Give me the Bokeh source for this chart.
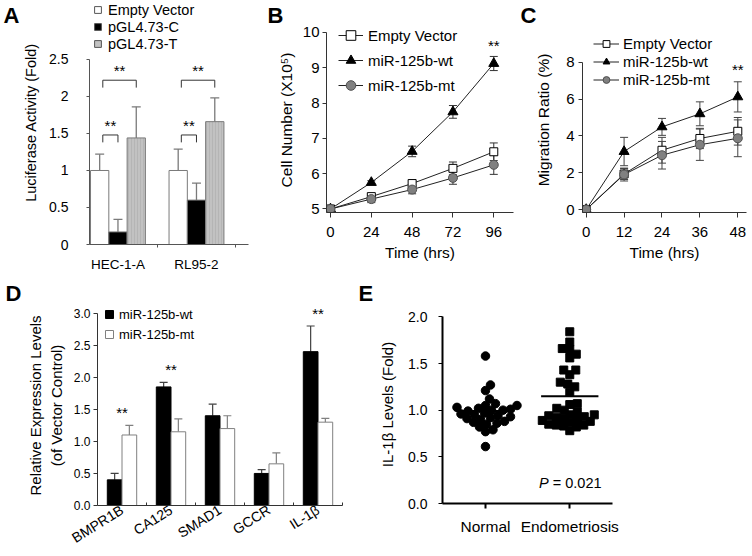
import numpy as np
from bokeh.plotting import figure
from bokeh.layouts import row, column
from bokeh.models import (Range1d, FixedTicker, Whisker, TeeHead, ColumnDataSource,
                          Legend, LegendItem, NumeralTickFormatter, LinearAxis)
from bokeh.embed import file_html
from bokeh.resources import INLINE
from bokeh.core.properties import value

FONT = "Liberation Sans"
NAN = float("nan")

# ---------------- data ----------------
# Panel A
a_categories = ["HEC-1-A", "RL95-2"]
a_series = ["Empty Vector", "pGL4.73-C", "pGL4.73-T"]
a_empty = [1.00, 1.00]
a_empty_err = [0.22, 0.29]
a_c = [0.17, 0.60]
a_c_err = [0.17, 0.23]
a_t = [1.44, 1.66]
a_t_err = [0.42, 0.32]
a_yticks = [0, 0.5, 1, 1.5, 2, 2.5]
a_brackets = [("Empty Vector", "pGL4.73-C", 1.48), ("Empty Vector", "pGL4.73-T", 2.22)]

# Panel B
b_series = ["Empty Vector", "miR-125b-wt", "miR-125b-mt"]
b_time = [0, 24, 48, 72, 96]
b_empty = [5.00, 5.35, 5.72, 6.15, 6.62]
b_empty_err = [0.0, 0.07, 0.08, 0.18, 0.25]
b_wt = [5.00, 5.75, 6.63, 7.75, 9.12]
b_wt_err = [0.0, 0.05, 0.15, 0.18, 0.20]
b_mt = [5.00, 5.28, 5.55, 5.88, 6.25]
b_mt_err = [0.0, 0.10, 0.12, 0.18, 0.27]
b_yticks = [5, 6, 7, 8, 9, 10]

# Panel C
c_time = [0, 12, 24, 36, 48]
c_empty = [0.0, 1.93, 3.22, 3.86, 4.25]
c_empty_err = [0.0, 0.30, 0.70, 0.55, 0.75]
c_wt = [0.0, 3.15, 4.49, 5.20, 6.12]
c_wt_err = [0.0, 0.77, 0.46, 0.65, 0.82]
c_mt = [0.0, 1.90, 2.95, 3.52, 3.87]
c_mt_err = [0.0, 0.35, 0.75, 0.85, 1.00]
c_yticks = [0, 2, 4, 6, 8]

# Panel D
d_genes = ["BMPR1B", "CA125", "SMAD1", "GCCR", "IL-1\u03b2"]
d_series = ["miR-125b-wt", "miR-125b-mt"]
d_wt = [0.40, 1.85, 1.40, 0.50, 2.40]
d_wt_err = [0.10, 0.07, 0.18, 0.06, 0.40]
d_mt = [1.10, 1.15, 1.20, 0.65, 1.30]
d_mt_err = [0.15, 0.20, 0.20, 0.17, 0.06]
d_sig = ["**", "**", "", "", "**"]
d_yticks = [0, 0.5, 1.0, 1.5, 2.0, 2.5, 3.0]

# Panel E
e_groups = ["Normal", "Endometriosis"]
e_normal = [1.58, 1.27, 1.21, 1.12, 1.07, 1.05, 1.05, 1.03, 1.02, 1.01, 1.00, 1.00,
            0.99, 0.97, 0.96, 0.95, 0.94, 0.93, 0.92, 0.91, 0.90, 0.88, 0.87, 0.86,
            0.85, 0.82, 0.79, 0.77, 0.61]
e_endo = [1.84, 1.73, 1.66, 1.65, 1.60, 1.56, 1.43, 1.43, 1.38, 1.30, 1.28, 1.25, 1.19,
          1.07, 1.06, 1.02, 1.00, 0.98, 0.95, 0.95, 0.94, 0.93, 0.92, 0.91, 0.90, 0.89,
          0.88, 0.87, 0.85, 0.84, 0.84, 0.83, 0.82, 0.78]
e_means = [0.99, 1.15]
e_yticks = [0, 0.5, 1.0, 1.5, 2.0]
e_p_value = "= 0.021"


# ---------------- helpers ----------------
def make_fig(w, h, xr, yr, left, right, top, bottom):
    p = figure(width=w, height=h, x_range=xr, y_range=yr, output_backend="svg",
               toolbar_location=None, min_border_left=left, min_border_right=right,
               min_border_top=top, min_border_bottom=bottom, frame_align=False)
    p.xgrid.visible = False
    p.ygrid.visible = False
    p.outline_line_color = None
    p.background_fill_color = "white"
    p.border_fill_color = "white"
    return p


def style_axis(ax, font_size, label_size, color="#333333", tick_out=4, standoff=4,
               label_standoff=5, line_width=1):
    ax.axis_line_color = color
    ax.axis_line_width = line_width
    ax.major_tick_line_color = color
    ax.major_tick_line_width = 1
    ax.major_tick_out = tick_out
    ax.major_tick_in = 0
    ax.minor_tick_line_color = None
    ax.major_label_text_font = FONT
    ax.major_label_text_font_size = font_size
    ax.major_label_text_color = "black"
    ax.major_label_standoff = standoff
    ax.axis_label_text_font = FONT
    ax.axis_label_text_font_size = label_size
    ax.axis_label_text_font_style = "normal"
    ax.axis_label_text_color = "black"
    ax.axis_label_standoff = label_standoff


def panel_label(p, text, offset):
    p.title.text = text
    p.title.text_font = FONT
    p.title.text_font_size = "22px"
    p.title.text_font_style = "bold"
    p.title.text_color = "black"
    p.title.align = "left"
    p.title.offset = offset
    p.title.standoff = 0


def make_legend(items, loc, gw, gh, fs, standoff, spacing):
    return Legend(items=items, location=loc, glyph_width=gw, glyph_height=gh,
                  label_height=8, label_width=10, padding=0, margin=0, spacing=spacing,
                  label_standoff=standoff, border_line_color=None,
                  background_fill_alpha=0, label_text_font=FONT,
                  label_text_font_size=fs, label_text_color="black")


# ---------------- Panel A ----------------
pA = make_fig(250, 278, Range1d(0.6375, 2.6625), Range1d(0, 3.297), 86, 2, 0, 34)
a_vals = [a_empty, a_c, a_t]
a_errs = [a_empty_err, a_c_err, a_t_err]
a_fill = ["white", "black", "#c2c2c2"]
bw = 0.233
a_proxies = []
for j, (vals, errs, fc) in enumerate(zip(a_vals, a_errs, a_fill)):
    xs = [i + 1 + (j - 1) * bw for i in range(len(a_categories))]
    src = ColumnDataSource(dict(x=xs, top=vals, upper=[v + e for v, e in zip(vals, errs)], lower=vals))
    pA.add_layout(Whisker(source=src, base="x", upper="upper", lower="lower",
                          line_color="#7a7a7a", line_width=1.3,
                          upper_head=TeeHead(size=9, line_color="#7a7a7a", line_width=1.3),
                          lower_head=None))
    extra = {}
    if j == 2:
        extra = dict(hatch_pattern="vertical_line", hatch_color="#9c9c9c", hatch_alpha=0.6,
                     hatch_scale=3, hatch_weight=0.6)
    pA.vbar(x="x", top="top", bottom=0, width=bw, source=src, fill_color=fc,
            line_color="#7a7a7a", line_width=1, **extra)
    a_proxies.append(pA.scatter(x=[NAN], y=[NAN], marker="square", size=8, fill_color=fc,
                                line_color="#555555", line_width=1))

sidx = {s: j for j, s in enumerate(a_series)}
bx, by, sx, sy = [], [], [], []
for i in range(len(a_categories)):
    for s1, s2, lvl in a_brackets:
        x1 = i + 1 + (sidx[s1] - 1) * bw + 0.04
        x2 = i + 1 + (sidx[s2] - 1) * bw
        bx.append([x1, x1, x2, x2])
        by.append([lvl - 0.1, lvl, lvl, lvl - 0.1])
        sx.append((x1 + x2) / 2)
        sy.append(lvl)
pA.multi_line(bx, by, line_color="#333333", line_width=1)
pA.text(sx, sy, text=["**"] * len(sx), text_font=value(FONT), text_font_size="15px",
        text_align="center", text_baseline="bottom", y_offset=-1, text_color="black")

ya = pA.yaxis[0]
style_axis(ya, "14px", "14.5px", color="#555555", tick_out=3, standoff=18, label_standoff=7)
ya.ticker = FixedTicker(ticks=a_yticks)
ya.major_label_overrides = {t: f"{t:g}" for t in a_yticks}
ya.bounds = (0, 2.5)
ya.axis_label = "Luciferase Activity (Fold)"
xa = pA.xaxis[0]
style_axis(xa, "13.5px", "14px", color="#555555", tick_out=0, standoff=9)
xa.ticker = FixedTicker(ticks=[i + 1 for i in range(len(a_categories))],
                        minor_ticks=[i + 1.5 for i in range(len(a_categories))])
xa.major_label_overrides = {i + 1: c for i, c in enumerate(a_categories)}
xa.minor_tick_line_color = "#555555"
xa.minor_tick_out = 3
xa.minor_tick_in = 0
pA.add_layout(make_legend([LegendItem(label=s, renderers=[r]) for s, r in zip(a_series, a_proxies)],
                          (0, 192), 17, 17, "14.5px", 2, 0))
# panel letter "A" as the single tick label of an outer left axis (frame reaches the top here)
A_TICK = 3.1
a_letter = LinearAxis(ticker=FixedTicker(ticks=[A_TICK]), major_label_overrides={A_TICK: "A"},
                      axis_line_color=None, major_tick_line_color=None,
                      minor_tick_line_color=None, major_tick_out=0, major_tick_in=0,
                      major_label_standoff=1, major_label_text_font=FONT,
                      major_label_text_font_size="22px", major_label_text_font_style="bold",
                      major_label_text_color="black")
pA.add_layout(a_letter, "left")

# ---------------- Panel B ----------------
pB = make_fig(264, 278, Range1d(-2.35, 107.6), Range1d(4.9, 10.14), 76, 1, 26, 66)


def line_series(p, t, ys, errs, marker, fill, size, outline, whisk_color):
    src = ColumnDataSource(dict(x=t, y=ys, upper=[v + e for v, e in zip(ys, errs)],
                                lower=[v - e for v, e in zip(ys, errs)]))
    p.add_layout(Whisker(source=src, base="x", upper="upper", lower="lower",
                         line_color=whisk_color, line_width=1,
                         upper_head=TeeHead(size=8, line_color=whisk_color, line_width=1),
                         lower_head=TeeHead(size=8, line_color=whisk_color, line_width=1)))
    ln = p.line("x", "y", source=src, line_color="#222222", line_width=1)
    sc = p.scatter("x", "y", source=src, marker=marker, size=size, fill_color=fill,
                   line_color=outline, line_width=1)
    return [ln, sc]


b_styles = [("square", "white", 8, "black"), ("triangle", "black", 10, "black"),
            ("circle", "#808080", 9, "#505050")]
b_rs = []
for (ys, errs), (mk, fc, sz, oc) in zip([(b_empty, b_empty_err), (b_wt, b_wt_err), (b_mt, b_mt_err)], b_styles):
    b_rs.append(line_series(pB, b_time, ys, errs, mk, fc, sz, oc, "#333333"))
pB.text([b_time[-1]], [b_wt[-1] + b_wt_err[-1]], text=["**"], text_font=value(FONT),
        text_font_size="15px", text_align="center", text_baseline="bottom", y_offset=-2,
        text_color="black")
yb = pB.yaxis[0]
style_axis(yb, "15px", "15.5px", tick_out=4, standoff=3, label_standoff=5)
yb.ticker = FixedTicker(ticks=b_yticks)
yb.bounds = (4.9, 10)
yb.axis_label = "Cell Number (X10\u2075)"
xb = pB.xaxis[0]
style_axis(xb, "15px", "15.5px", tick_out=5, standoff=9, label_standoff=4)
xb.ticker = FixedTicker(ticks=b_time)
xb.axis_label = "Time (hrs)"
pB.add_layout(make_legend([LegendItem(label=s, renderers=r) for s, r in zip(b_series, b_rs)],
                          (12, 115), 25, 24, "15px", 5, 1))
panel_label(pB, "B", -59)

# ---------------- Panel C ----------------
pC = make_fig(238, 278, Range1d(-1.17, 50.76), Range1d(-0.162, 9.89), 68, 6, 26, 66)
c_rs = []
for (ys, errs), (mk, fc, sz, oc) in zip([(c_empty, c_empty_err), (c_wt, c_wt_err), (c_mt, c_mt_err)], b_styles):
    c_rs.append(line_series(pC, c_time, ys, errs, mk, fc, sz, oc, "#444444"))
pC.text([c_time[-1]], [c_wt[-1] + c_wt_err[-1]], text=["**"], text_font=value(FONT),
        text_font_size="15px", text_align="center", text_baseline="bottom", y_offset=-4,
        text_color="black")
yc = pC.yaxis[0]
style_axis(yc, "15px", "15.5px", tick_out=4, standoff=4, label_standoff=11)
yc.ticker = FixedTicker(ticks=c_yticks)
yc.bounds = (-0.162, 8)
yc.axis_label = "Migration Ratio (%)"
xc = pC.xaxis[0]
style_axis(xc, "15px", "15.5px", tick_out=5, standoff=9, label_standoff=4)
xc.ticker = FixedTicker(ticks=c_time)
xc.axis_label = "Time (hrs)"
pC.add_layout(make_legend([LegendItem(label=s, renderers=r) for s, r in zip(b_series, c_rs)],
                          (11, 124.5), 26, 17, "15px", 4, 1))
panel_label(pC, "C", -62)

# ---------------- Panel D ----------------
pD = make_fig(350, 278, Range1d(0.5, 5.5), Range1d(0, 3.12), 97, 8, 26, 51)
dw = 0.3
d_fill = ["black", "white"]
d_line = ["black", "#808080"]
d_whisk = ["#404040", "#808080"]
d_proxies = []
for j, (vals, errs) in enumerate([(d_wt, d_wt_err), (d_mt, d_mt_err)]):
    xs = [i + 1 + (j - 0.5) * dw for i in range(len(d_genes))]
    src = ColumnDataSource(dict(x=xs, top=vals, upper=[v + e for v, e in zip(vals, errs)], lower=vals))
    pD.add_layout(Whisker(source=src, base="x", upper="upper", lower="lower",
                          line_color=d_whisk[j], line_width=1.2,
                          upper_head=TeeHead(size=8, line_color=d_whisk[j], line_width=1.2),
                          lower_head=None))
    pD.vbar(x="x", top="top", bottom=0, width=dw, source=src, fill_color=d_fill[j],
            line_color=d_line[j], line_width=1)
    d_proxies.append(pD.scatter(x=[NAN], y=[NAN], marker="square", size=8, fill_color=d_fill[j],
                                line_color=d_line[j], line_width=1))
star_x = [i + 1 for i, s in enumerate(d_sig) if s]
star_y = [max(d_wt[i] + d_wt_err[i], d_mt[i] + d_mt_err[i]) for i, s in enumerate(d_sig) if s]
pD.text(star_x, star_y, text=[s for s in d_sig if s], text_font=value(FONT),
        text_font_size="15px", text_align="center", text_baseline="bottom", y_offset=-4,
        text_color="black")
yd = pD.yaxis[0]
style_axis(yd, "12px", "15px", color="#333333", tick_out=4, standoff=3, label_standoff=6)
yd.ticker = FixedTicker(ticks=d_yticks)
yd.formatter = NumeralTickFormatter(format="0.0")
yd.bounds = (0, 3)
yd.axis_label = "Relative Expression Levels\n(of Vector Control)"
xd = pD.xaxis[0]
style_axis(xd, "14px", "14px", color="#333333", tick_out=0, standoff=3)
xd.ticker = FixedTicker(ticks=[i + 1 for i in range(len(d_genes))],
                        minor_ticks=[i + 1.5 for i in range(len(d_genes))])
xd.major_label_overrides = {i + 1: g for i, g in enumerate(d_genes)}
xd.major_label_orientation = 0.56
xd.minor_tick_line_color = "#333333"
xd.minor_tick_in = 3
xd.minor_tick_out = 0
pD.add_layout(make_legend([LegendItem(label=s, renderers=[r]) for s, r in zip(d_series, d_proxies)],
                          (2, 161), 20, 20, "13px", 0, 0))
panel_label(pD, "D", -92)

# ---------------- Panel E ----------------
e_xr = Range1d(0.49, 2.507)
e_yr = Range1d(0, 2.1215)
pE = make_fig(270, 278, e_xr, e_yr, 92, 8, 26, 53)
ppx = 170 / (e_xr.end - e_xr.start)
ppy = 199 / (e_yr.end - e_yr.start)


def swarm_offsets(vals, d):
    placed = []
    offs = [0.0] * len(vals)
    cands = [0.0]
    for m in np.arange(0.5, 80, 0.5):
        cands += [m, -m]
    for k in sorted(range(len(vals)), key=lambda q: vals[q]):
        yk = vals[k] * ppy
        chosen = cands[-1]
        for c in cands:
            if all((c - px) ** 2 + (yk - py) ** 2 >= d * d for px, py in placed):
                chosen = c
                break
        placed.append((chosen, yk))
        offs[k] = chosen / ppx
    return offs


n_off = swarm_offsets(e_normal, 7.5)
en_off = swarm_offsets(e_endo, 7.5)
pE.scatter([1 + o for o in n_off], e_normal, marker="circle", size=8.5,
           fill_color="black", line_color="black")
pE.scatter([2 + o for o in en_off], e_endo, marker="square", size=8,
           fill_color="black", line_color="black")
pE.segment(x0=[i + 1 - 0.34 for i in range(2)], y0=e_means,
           x1=[i + 1 + 0.34 for i in range(2)], y1=e_means, line_color="black", line_width=2)
pE.text([2], [0.216], text=["P"], text_font=value(FONT), text_font_size="14.5px",
        text_font_style="italic", text_align="right", text_baseline="middle", x_offset=-21,
        text_color="black")
pE.text([2], [0.216], text=[e_p_value], text_font=value(FONT), text_font_size="14.5px",
        text_align="left", text_baseline="middle", x_offset=-17, text_color="black")
ye = pE.yaxis[0]
style_axis(ye, "14px", "15px", color="black", tick_out=4, standoff=11, label_standoff=9,
           line_width=2)
ye.ticker = FixedTicker(ticks=e_yticks)
ye.formatter = NumeralTickFormatter(format="0.0")
ye.bounds = (0, 2)
ye.axis_label = "IL-1\u03b2 Levels (Fold)"
xe = pE.xaxis[0]
style_axis(xe, "15.5px", "15px", color="black", tick_out=5, standoff=9, line_width=2)
xe.major_tick_line_width = 2
xe.ticker = FixedTicker(ticks=[1, 2])
xe.major_label_overrides = {i + 1: g for i, g in enumerate(e_groups)}
panel_label(pE, "E", -84)

layout = column(row(pA, pB, pC), row(pD, pE))
open("out.html", "w").write(file_html(layout, INLINE, title="Figure"))
